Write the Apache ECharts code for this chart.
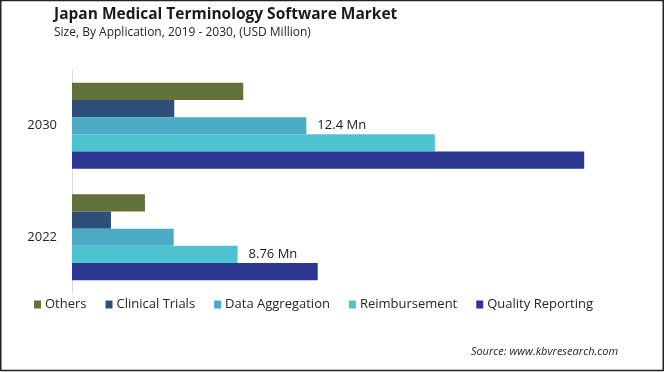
<!DOCTYPE html>
<html>
<head>
<meta charset="utf-8">
<script src="https://cdn.jsdelivr.net/npm/echarts@6/dist/echarts.min.js"></script>
<style>
html,body{margin:0;padding:0;background:#fff;}
#chart{width:665px;height:372px;}
</style>
</head>
<body>
<div id="chart"></div>
<script>
var years = ['2022', '2030'];
var seriesNames = ['Others', 'Clinical Trials', 'Data Aggregation', 'Reimbursement', 'Quality Reporting'];
var others = [3.86, 9.06];
var clinicalTrials = [2.06, 5.41];
var dataAggregation = [5.38, 12.4];
var reimbursement = [8.76, 19.2];
var qualityReporting = [13.0, 27.1];
var colors = ['#62733a', '#2e4f7a', '#4babc4', '#4ec3cf', '#2b3790'];
// labelled points: [seriesIndex, dataIndex, text]
var labelled = [[2, 1, '12.4 Mn'], [3, 0, '8.76 Mn']];

var values = [others, clinicalTrials, dataAggregation, reimbursement, qualityReporting];

var chart = echarts.init(document.getElementById('chart'), null, {renderer: 'canvas'});
var font = '"Open Sans", "Noto Sans", sans-serif';

var series = seriesNames.map(function (name, si) {
  return {
    name: name,
    type: 'bar',
    barGap: '0%',
    barCategoryGap: '23%',
    itemStyle: {color: colors[si]},
    data: values[si].map(function (v, di) {
      var item = {value: v};
      labelled.forEach(function (l) {
        if (l[0] === si && l[1] === di) {
          item.label = {
            show: true, position: 'right', distance: 11,
            formatter: l[2], color: '#1a1a1a', fontSize: 13, fontFamily: font
          };
        }
      });
      return item;
    })
  };
});

chart.setOption({
  animation: false,
  textStyle: {fontFamily: font},
  title: [
    {text: 'Japan Medical Terminology Software Market', left: 49, top: 2,
     textStyle: {fontSize: 15.5, fontWeight: 'bold', color: '#1a1a1a', fontFamily: font}},
    {text: 'Size, By Application, 2019 - 2030, (USD Million)', left: 49, top: 22,
     textStyle: {fontSize: 12, fontWeight: 'normal', color: '#262626', fontFamily: font}},
    {text: 'Source: www.kbvresearch.com', right: 42, top: 341,
     textStyle: {fontSize: 11, fontStyle: 'italic', fontWeight: 'normal', color: '#262626', fontFamily: font}}
  ],
  legend: {
    data: seriesNames,
    left: 29, top: 293,
    itemWidth: 7, itemHeight: 8, itemGap: 19,
    icon: 'rect',
    textStyle: {fontSize: 13, color: '#262626', fontFamily: font, padding: [0, 0, 0, -1]}
  },
  grid: {left: 72, top: 70, width: 567, height: 223, containLabel: false},
  xAxis: {type: 'value', min: 0, max: 30, show: false, splitLine: {show: false}},
  yAxis: {
    type: 'category', data: years,
    axisLine: {show: true, lineStyle: {color: '#d9d9d9', width: 1}},
    axisTick: {show: false},
    axisLabel: {fontSize: 13, color: '#262626', margin: 15, fontFamily: font}
  },
  series: series,
  graphic: [{
    type: 'rect', silent: true,
    shape: {x: 0.75, y: 0.5, width: 662.5, height: 370},
    style: {fill: 'none', stroke: '#222', lineWidth: 1.5}
  }]
});
</script>
</body>
</html>
